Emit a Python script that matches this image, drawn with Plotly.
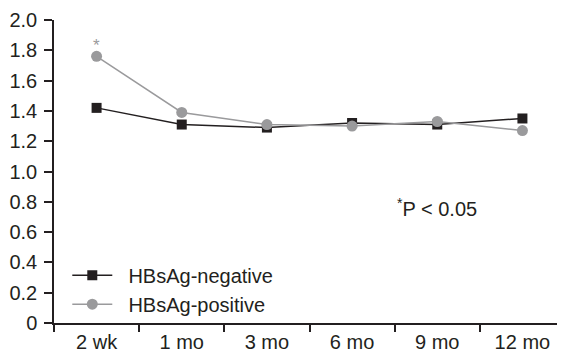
import plotly.graph_objects as go

categories = ["2 wk", "1 mo", "3 mo", "6 mo", "9 mo", "12 mo"]
hbsag_negative = [1.42, 1.31, 1.29, 1.32, 1.31, 1.35]
hbsag_positive = [1.76, 1.39, 1.31, 1.30, 1.33, 1.27]
series_names = ["HBsAg-negative", "HBsAg-positive"]
y_tickvals = [0, 0.2, 0.4, 0.6, 0.8, 1.0, 1.2, 1.4, 1.6, 1.8, 2.0]
y_ticktext = ["0", "0.2", "0.4", "0.6", "0.8", "1.0", "1.2", "1.4", "1.6", "1.8", "2.0"]

BLACK = "#231f20"
GRAY = "#9a9a9c"
FONT = "Liberation Sans, Arial, sans-serif"
PAD = "\u00a0\u00a0"

fig = go.Figure()
fig.add_trace(go.Scatter(
    x=categories, y=hbsag_negative, name=PAD + series_names[0], mode="lines+markers",
    line=dict(color=BLACK, width=1.5),
    marker=dict(symbol="square", size=10, color=BLACK),
))
fig.add_trace(go.Scatter(
    x=categories, y=hbsag_positive, name=PAD + series_names[1], mode="lines+markers",
    line=dict(color=GRAY, width=1.5),
    marker=dict(symbol="circle", size=11, color=GRAY),
))

fig.add_annotation(x=categories[0], y=hbsag_positive[0], text="*", showarrow=False,
                   yshift=11, font=dict(family=FONT, size=17, color=GRAY))
fig.add_annotation(x=0.667, y=0.38, xref="paper", yref="paper", xanchor="left",
                   yanchor="middle",
                   text="<sup>*</sup>P < 0.05", showarrow=False,
                   font=dict(family=FONT, size=20, color=BLACK))

fig.update_layout(
    width=565, height=358,
    margin=dict(l=46, r=8, t=12, b=43),
    paper_bgcolor="white", plot_bgcolor="white",
    font=dict(family=FONT, size=20, color=BLACK),
    showlegend=True,
    legend=dict(x=0.026, y=0.11, xanchor="left", yanchor="middle",
                bgcolor="rgba(0,0,0,0)", font=dict(size=20), tracegroupgap=0,
                itemwidth=40),
    xaxis=dict(type="category", showline=True, linecolor=BLACK, linewidth=1.5,
               ticks="outside", tickson="boundaries", ticklen=7, tickcolor=BLACK,
               tickwidth=1.5, showgrid=False, zeroline=False, range=[-0.5, 5.5],
               automargin=False),
    yaxis=dict(range=[0, 2.0], tickvals=y_tickvals, ticktext=y_ticktext,
               showline=True, linecolor=BLACK, linewidth=1.5, ticks="outside",
               ticklen=8, tickcolor=BLACK, tickwidth=1.5, showgrid=False,
               zeroline=False, ticklabelstandoff=3, automargin=False),
)

fig.write_html("out.html")
